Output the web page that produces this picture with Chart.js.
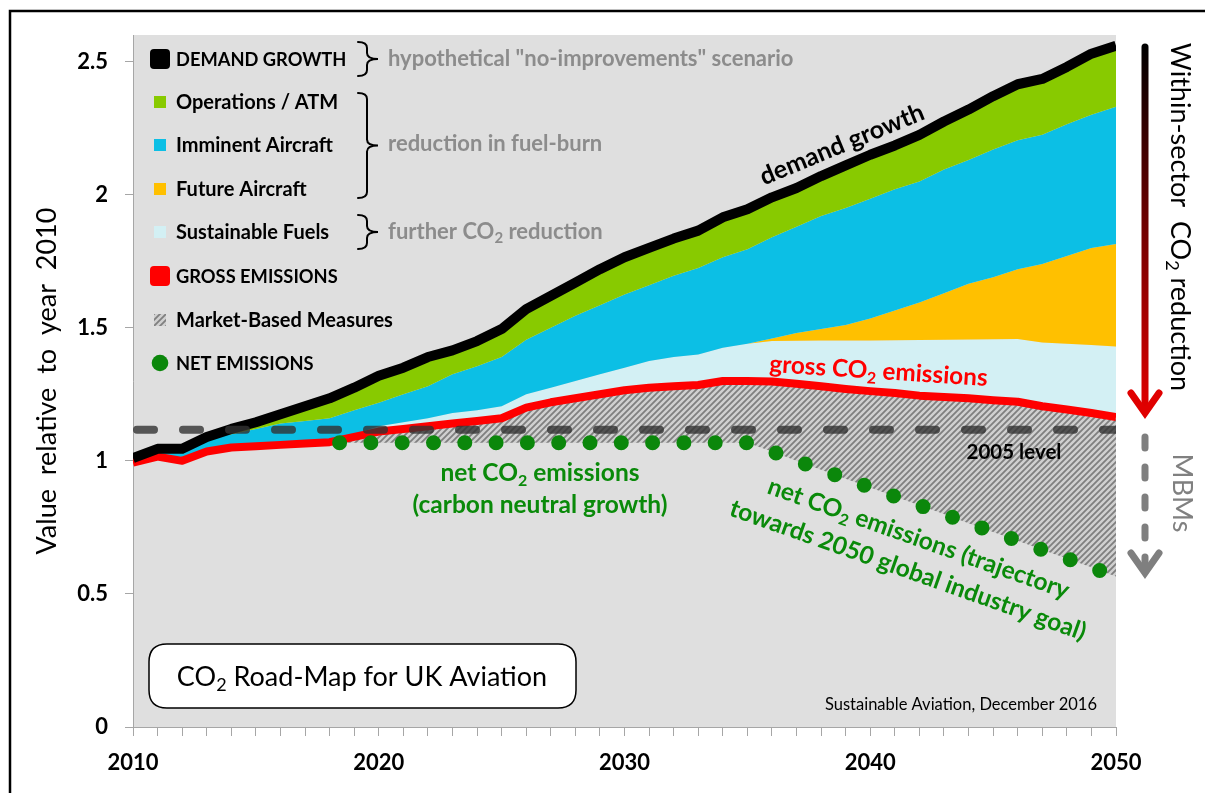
<!DOCTYPE html>
<html>
<head>
<meta charset="utf-8">
<script src="https://cdn.jsdelivr.net/npm/chart.js@4.4.1/dist/chart.umd.min.js"></script>
<style>
html,body{margin:0;padding:0;background:#fff;}
#wrap{position:relative;width:1205px;height:793px;overflow:hidden;}
canvas{display:block;}
</style>
</head>
<body>
<div id="wrap"><canvas id="c" width="1205" height="793"></canvas></div>
<script>
// ---------------- DATA ----------------
const years = [2010,2011,2012,2013,2014,2015,2016,2017,2018,2019,
               2020,2021,2022,2023,2024,2025,2026,2027,2028,2029,
               2030,2031,2032,2033,2034,2035,2036,2037,2038,2039,
               2040,2041,2042,2043,2044,2045,2046,2047,2048,2049,2050];
// hypothetical "no-improvements" demand growth (top of stack)
const demandGrowth = [1.01,1.045,1.045,1.09,1.12,1.145,1.175,1.205,1.235,1.275,
                      1.32,1.35,1.39,1.415,1.45,1.495,1.57,1.62,1.67,1.72,
                      1.765,1.80,1.835,1.865,1.915,1.945,1.99,2.025,2.07,2.11,
                      2.15,2.185,2.225,2.275,2.32,2.37,2.415,2.435,2.48,2.53,2.56];
// upper edge of "Imminent Aircraft" band (= lower edge of Operations / ATM)
const imminentTop = [1.01,1.04,1.04,1.085,1.10,1.12,1.14,1.15,1.16,1.19,
                     1.218,1.25,1.28,1.325,1.355,1.39,1.455,1.50,1.545,1.585,
                     1.625,1.66,1.695,1.725,1.765,1.795,1.84,1.88,1.92,1.95,
                     1.985,2.02,2.05,2.095,2.13,2.17,2.205,2.225,2.265,2.30,2.33];
// upper edge of "Future Aircraft" band
const futureTop = [0.993,1.016,1.0,1.035,1.05,1.055,1.06,1.065,1.07,1.10,
                   1.13,1.145,1.16,1.18,1.19,1.205,1.25,1.275,1.30,1.325,
                   1.35,1.375,1.39,1.40,1.425,1.44,1.46,1.48,1.495,1.51,
                   1.535,1.565,1.595,1.63,1.665,1.69,1.72,1.74,1.77,1.80,1.815];
// upper edge of "Sustainable Fuels" band
const fuelsTop = [0.993,1.016,1.0,1.035,1.05,1.055,1.06,1.065,1.07,1.10,
                  1.13,1.145,1.16,1.18,1.19,1.205,1.25,1.275,1.30,1.325,
                  1.35,1.375,1.39,1.40,1.425,1.44,1.45,1.451,1.452,1.452,
                  1.452,1.453,1.454,1.455,1.456,1.457,1.458,1.445,1.44,1.435,1.43];
// gross CO2 emissions
const grossEmissions = [0.993,1.016,1.0,1.035,1.05,1.055,1.06,1.065,1.07,1.09,
                        1.11,1.12,1.13,1.14,1.15,1.16,1.20,1.22,1.235,1.25,
                        1.265,1.275,1.28,1.285,1.30,1.30,1.298,1.29,1.28,1.27,
                        1.262,1.255,1.245,1.24,1.235,1.228,1.222,1.205,1.193,1.18,1.165];
// net CO2 emissions (carbon neutral growth, then trajectory to 2050 goal)
const netYears = [2018,2019,2020,2021,2022,2023,2024,2025,2026,2027,2028,
                  2029,2030,2031,2032,2033,2034,2035,2036,2037,2038,2039,
                  2040,2041,2042,2043,2044,2045,2046,2047,2048,2049,2050];
const netEmissions = [1.068,1.068,1.068,1.068,1.068,1.068,1.068,1.068,1.068,1.068,1.068,
                      1.068,1.068,1.068,1.068,1.068,1.068,1.068,1.035,1.0,0.967,0.933,
                      0.90,0.866,0.833,0.80,0.766,0.733,0.70,0.666,0.633,0.60,0.565];
const level2005Years = [2010,2050];
const level2005 = [1.117,1.117];
const yTickValues = [0,0.5,1,1.5,2,2.5];
const xTickLabels = [2010,2020,2030,2040,2050];

// ---------------- HELPERS ----------------
const FONT = 'Lato';
const pts = (vals, xs) => vals.map((v,i)=>({x: xs[i], y: v}));
const canvas = document.getElementById('c');
const mainCtx = canvas.getContext('2d');

function makeHatch(){
  const c = document.createElement('canvas'); c.width = 6; c.height = 6;
  const g = c.getContext('2d');
  g.fillStyle = '#d0d0d0'; g.fillRect(0,0,6,6);
  g.strokeStyle = '#7f7f7f'; g.lineWidth = 1.8;
  g.beginPath();
  g.moveTo(-1,7); g.lineTo(7,-1);
  g.moveTo(-4,4); g.lineTo(4,-4);
  g.moveTo(2,10); g.lineTo(10,2);
  g.stroke();
  return mainCtx.createPattern(c,'repeat');
}
const hatch = makeHatch();

function rich(ctx, parts, x, y, o){
  const size = o.size, w8 = o.weight || 'bold';
  const f = `${w8} ${size}px ${FONT}`, fs = `${w8} ${Math.round(size*0.66)}px ${FONT}`;
  ctx.save();
  ctx.translate(x,y);
  ctx.rotate((o.rot||0)*Math.PI/180);
  ctx.textBaseline = o.base || 'alphabetic';
  ctx.textAlign = 'left';
  ctx.fillStyle = o.color || '#000';
  let w = 0;
  parts.forEach(p=>{ const s = typeof p==='string'?p:p.sub; ctx.font = typeof p==='string'?f:fs; w += ctx.measureText(s).width; });
  let cx = o.align==='center' ? -w/2 : (o.align==='right' ? -w : 0);
  parts.forEach(p=>{
    if (typeof p==='string'){ ctx.font=f; ctx.fillText(p,cx,0); cx += ctx.measureText(p).width; }
    else { ctx.font=fs; ctx.fillText(p.sub,cx,size*0.2); cx += ctx.measureText(p.sub).width; }
  });
  ctx.restore();
}

function brace(ctx, x, top, bottom){
  const mid = (top+bottom)/2, w = 20;
  ctx.save();
  ctx.strokeStyle = '#000'; ctx.lineWidth = 2; ctx.lineCap='round';
  ctx.beginPath();
  ctx.moveTo(x, top);
  ctx.quadraticCurveTo(x+w*0.45, top, x+w*0.45, top+6);
  ctx.lineTo(x+w*0.45, mid-6);
  ctx.quadraticCurveTo(x+w*0.45, mid, x+w, mid);
  ctx.quadraticCurveTo(x+w*0.45, mid, x+w*0.45, mid+6);
  ctx.lineTo(x+w*0.45, bottom-6);
  ctx.quadraticCurveTo(x+w*0.45, bottom, x, bottom);
  ctx.stroke();
  ctx.restore();
}

function roundRect(ctx, x, y, w, h, r){
  ctx.beginPath();
  ctx.moveTo(x+r,y); ctx.lineTo(x+w-r,y); ctx.quadraticCurveTo(x+w,y,x+w,y+r);
  ctx.lineTo(x+w,y+h-r); ctx.quadraticCurveTo(x+w,y+h,x+w-r,y+h);
  ctx.lineTo(x+r,y+h); ctx.quadraticCurveTo(x,y+h,x,y+h-r);
  ctx.lineTo(x,y+r); ctx.quadraticCurveTo(x,y,x+r,y);
  ctx.closePath();
}

const COLORS = {
  ops:'#88CA00', imminent:'#0CBFE5', future:'#FFC000', fuels:'#D3F0F4',
  gross:'#FF0000', net:'#0B870B', bg:'#DFDFDF', grayText:'#8C8C8C', netText:'#0A8A0A'
};

// ---------------- PLUGINS ----------------
const bgPlugin = {
  id:'bg',
  beforeDraw(chart){
    const {ctx, chartArea:a} = chart;
    ctx.save(); ctx.fillStyle = COLORS.bg;
    ctx.fillRect(a.left, a.top, a.right-a.left, a.bottom-a.top);
    ctx.restore();
  }
};

const annoPlugin = {
  id:'anno',
  afterDraw(chart){
    const ctx = chart.ctx;
    // frame
    ctx.save();
    ctx.strokeStyle = '#000'; ctx.lineWidth = 2.5;
    ctx.beginPath(); ctx.moveTo(10,800); ctx.lineTo(10,11); ctx.lineTo(1210,11); ctx.stroke();
    ctx.restore();

    // legend swatches
    ctx.save();
    ctx.fillStyle = '#000'; roundRect(ctx,150,49,20,20,4); ctx.fill();
    ctx.fillStyle = COLORS.ops; ctx.fillRect(154,96,12,12);
    ctx.fillStyle = COLORS.imminent; ctx.fillRect(154,139,12,12);
    ctx.fillStyle = COLORS.future; ctx.fillRect(154,183,12,12);
    ctx.fillStyle = COLORS.fuels; ctx.fillRect(154,226,12,12);
    ctx.fillStyle = COLORS.gross; roundRect(ctx,150,266,20,20,4); ctx.fill();
    ctx.fillStyle = hatch; ctx.fillRect(154,314,12,12);
    ctx.fillStyle = COLORS.net; ctx.beginPath(); ctx.arc(160,363,8.3,0,Math.PI*2); ctx.fill();
    ctx.restore();

    const C = {size:18.3, weight:'bold', color:'#000'};
    const M = {size:20, weight:'bold', color:'#000'};
    rich(ctx,['DEMAND GROWTH'],176,65.5,C);
    rich(ctx,['Operations / ATM'],176,108.5,M);
    rich(ctx,['Imminent Aircraft'],176,152,M);
    rich(ctx,['Future Aircraft'],176,196,M);
    rich(ctx,['Sustainable Fuels'],176,239,M);
    rich(ctx,['GROSS EMISSIONS'],176,283,C);
    rich(ctx,['Market-Based Measures'],176,326.5,M);
    rich(ctx,['NET EMISSIONS'],176,370,C);

    brace(ctx,358,42,76);
    brace(ctx,358,93,198);
    brace(ctx,358,215,249);
    const G = {size:22, weight:'bold', color:COLORS.grayText};
    rich(ctx,['hypothetical "no-improvements" scenario'],388,66,G);
    rich(ctx,['reduction in fuel-burn'],388,151,G);
    rich(ctx,['further CO',{sub:'2'},' reduction'],388,238.5,G);

    // axis title
    rich(ctx,['Value  relative  to  year  2010'],56,381,{size:27,weight:'normal',color:'#000',rot:-90,align:'center'});

    // title box
    ctx.save();
    roundRect(ctx,149,644,427,64,18);
    ctx.fillStyle='#fff'; ctx.fill();
    ctx.strokeStyle='#000'; ctx.lineWidth=1.5; ctx.stroke();
    ctx.restore();
    rich(ctx,['CO',{sub:'2'},' Road-Map for UK Aviation'],362,686,{size:27,weight:'normal',color:'#000',align:'center'});

    rich(ctx,['Sustainable Aviation, December 2016'],1097,710,{size:16.5,weight:'normal',color:'#000',align:'right'});
    rich(ctx,['2005 level'],1014,458.5,{size:20.5,weight:'bold',color:'#000',align:'center'});

    rich(ctx,['demand growth'],845,152,{size:25,weight:'bold',color:'#000',rot:-22.4,align:'center'});
    rich(ctx,['gross CO',{sub:'2'},' emissions'],878,379,{size:24.3,weight:'bold',color:COLORS.gross,rot:3.7,align:'center'});

    const N = {size:24.5,weight:'bold',color:COLORS.netText,align:'center'};
    rich(ctx,['net CO',{sub:'2'},' emissions'],540,481,N);
    rich(ctx,['(carbon neutral growth)'],540,513,N);
    rich(ctx,['net CO',{sub:'2'},' emissions (trajectory'],766,493,{size:24.5,weight:'bold',color:COLORS.netText,rot:19.5});
    rich(ctx,['towards 2050 global industry goal)'],728,515,{size:24.5,weight:'bold',color:COLORS.netText,rot:19.5});

    // right-hand arrows
    ctx.save();
    const grad = ctx.createLinearGradient(0,45,0,410);
    grad.addColorStop(0,'#000'); grad.addColorStop(1,'#E00000');
    ctx.strokeStyle = grad; ctx.lineWidth = 7; ctx.lineCap='round';
    ctx.beginPath(); ctx.moveTo(1145,47); ctx.lineTo(1145,410); ctx.stroke();
    ctx.strokeStyle='#E00000'; ctx.lineJoin='miter';
    ctx.beginPath(); ctx.moveTo(1131,393); ctx.lineTo(1145,413); ctx.lineTo(1159,393); ctx.stroke();
    ctx.strokeStyle='#7F7F7F'; ctx.setLineDash([11,19]);
    ctx.beginPath(); ctx.moveTo(1145,437); ctx.lineTo(1145,572); ctx.stroke();
    ctx.setLineDash([]);
    ctx.beginPath(); ctx.moveTo(1131,553); ctx.lineTo(1145,573); ctx.lineTo(1159,553); ctx.stroke();
    ctx.restore();
    rich(ctx,['Within-sector  CO',{sub:'2'},' reduction'],1171,217,{size:27,weight:'normal',color:'#000',rot:90,align:'center'});
    rich(ctx,['MBMs'],1173,493,{size:27,weight:'normal',color:'#808080',rot:90,align:'center'});
  }
};

// ---------------- CHART ----------------
new Chart(canvas, {
  type:'line',
  data:{
    datasets:[
      { label:'NET EMISSIONS', data: pts(netEmissions, netYears), borderColor: COLORS.net, borderWidth: 15,
        borderDash:[0,31.3], borderDashOffset:21.3, borderCapStyle:'round', fill:false },
      { label:'2005 level', data: pts(level2005, level2005Years), borderColor:'rgba(50,50,50,0.8)', borderWidth: 8,
        borderDash:[17,29], borderDashOffset:-4, borderCapStyle:'round', fill:false },
      { label:'DEMAND GROWTH', data: pts(demandGrowth, years), borderColor:'#000', borderWidth:10,
        borderJoinStyle:'round', backgroundColor: COLORS.ops, fill:{target:4} },
      { label:'GROSS EMISSIONS', data: pts(grossEmissions, years), borderColor: COLORS.gross, borderWidth:8,
        borderJoinStyle:'round', fill:false },
      { label:'Imminent Aircraft', data: pts(imminentTop, years), borderColor:'rgba(0,0,0,0)', borderWidth:0,
        backgroundColor: COLORS.imminent, fill:{target:5} },
      { label:'Future Aircraft', data: pts(futureTop, years), borderColor:'rgba(0,0,0,0)', borderWidth:0,
        backgroundColor: COLORS.future, fill:{target:6} },
      { label:'Sustainable Fuels', data: pts(fuelsTop, years), borderColor:'rgba(0,0,0,0)', borderWidth:0,
        backgroundColor: COLORS.fuels, fill:{target:3} },
      { label:'Market-Based Measures', data: pts(grossEmissions.slice(years.indexOf(netYears[0])), netYears),
        borderColor:'rgba(0,0,0,0)', borderWidth:0, backgroundColor: hatch, fill:{target:0} }
    ]
  },
  options:{
    responsive:false, animation:false, devicePixelRatio:1,
    layout:{padding:{top:35,right:89,left:0,bottom:0}},
    elements:{point:{radius:0,hoverRadius:0}, line:{tension:0}},
    plugins:{legend:{display:false}, tooltip:{enabled:false}, filler:{propagate:false}},
    scales:{
      x:{type:'linear', min:2010, max:2050,
         ticks:{stepSize:1, autoSkip:false, maxRotation:0, padding:14, color:'#000',
                font:{family:FONT, weight:'bold', size:22},
                callback:(v)=> xTickLabels.includes(v) ? String(v) : ''},
         grid:{drawOnChartArea:false, drawTicks:true, tickLength:9, color:'#A6A6A6'},
         border:{display:true, color:'#A6A6A6', width:1},
         afterFit:(s)=>{ s.height = 66; }
      },
      y:{min:0, max:2.6,
         ticks:{stepSize:0.5, includeBounds:false, padding:17, color:'#000',
                font:{family:FONT, weight:'bold', size:22},
                callback:(v)=> yTickValues.includes(v) ? String(v) : ''},
         grid:{drawOnChartArea:false, drawTicks:true, tickLength:8, color:'#A6A6A6'},
         border:{display:true, color:'#A6A6A6', width:1},
         afterFit:(s)=>{ s.width = 133; }
      }
    }
  },
  plugins:[bgPlugin, annoPlugin]
});
</script>
</body>
</html>
